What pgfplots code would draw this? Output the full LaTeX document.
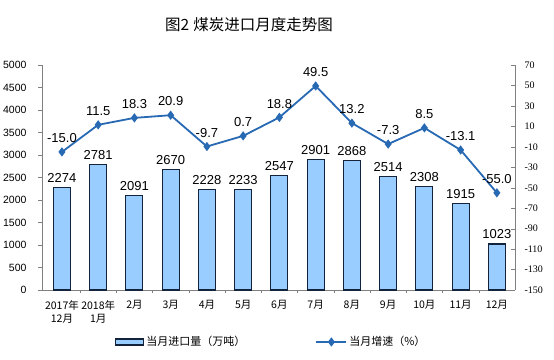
\documentclass[border=0pt]{standalone}
\usepackage{pgfplots}
\pgfplotsset{compat=1.18}
\usepackage{fontspec}
\setmainfont{Liberation Sans}
\newfontfamily\cjk{Noto Sans CJK SC}
\newfontfamily\tnr{Liberation Serif}
\definecolor{barblue}{RGB}{153,204,255}
\definecolor{bardark}{RGB}{20,35,60}
\definecolor{lineblue}{RGB}{40,105,180}
\definecolor{axgray}{RGB}{128,128,128}
\pgfplotsset{
  barleg/.style={legend image code/.code={\draw[fill=barblue, draw=bardark, line width=1.1pt] (0pt,-3pt) rectangle (28pt,3pt);}},
  lineleg/.style={legend image code/.code={\draw[##1, mark repeat=2, mark phase=2] plot coordinates {(0pt,0pt) (15pt,0pt) (30pt,0pt)};}},
}
\begin{document}
\begin{tikzpicture}[x=1pt,y=1pt]
\useasboundingbox (0,0) rectangle (554,359);
\node[font={\cjk\fontsize{15.5}{17}\selectfont}] at (249,334) {图2\hspace{4pt}煤炭进口月度走势图};
\begin{axis}[
  at={(42pt,69pt)}, anchor=south west, scale only axis,
  width=473pt, height=225pt,
  xmin=-0.55, xmax=12.5, ymin=0, ymax=5000,
  axis y line*=left, axis x line*=bottom,
  axis line style={draw=axgray, line width=0.6pt},
  ytick={0,500,...,5000},
  xtick={0,...,12},
  xticklabels={{2017年\\12月},{2018年\\1月},2月,3月,4月,5月,6月,7月,8月,9月,10月,11月,12月},
  xticklabel style={font={\cjk\fontsize{10.5}{13}\selectfont}, align=center, text depth=0pt, yshift=-3pt},
  minor xtick={0.5,1.5,...,11.5},
  major x tick style={draw=none},
  minor tick length=3pt,
  tick align=outside,
  x tick style={draw=axgray},
  y tick style={draw=axgray},
  major tick length=4pt,
  yticklabel style={font={\fontsize{10.5}{12}\selectfont}, xshift=-8pt},
  /pgf/number format/assume math mode=true,
  /pgf/number format/1000 sep={},
  clip=false,
]
\addplot[ybar, bar width=17pt, fill=barblue, draw=bardark, line width=1.1pt,
  nodes near coords,
  nodes near coords style={font={\fontsize{13}{14}\selectfont}, text=black, /pgf/number format/1000 sep={}, yshift=1pt}]
  coordinates {(0,2274) (1,2781) (2,2091) (3,2670) (4,2228) (5,2233) (6,2547) (7,2901) (8,2868) (9,2514) (10,2308) (11,1915) (12,1023)};
\end{axis}
\begin{axis}[
  at={(42pt,69pt)}, anchor=south west, scale only axis,
  width=473pt, height=225pt,
  xmin=-0.55, xmax=12.5, ymin=-150, ymax=70,
  axis y line*=right, axis x line=none,
  axis line style={draw=axgray, line width=0.6pt},
  ytick={-150,-130,...,70},
  tick align=inside,
  y tick style={draw=axgray},
  major tick length=4pt,
  yticklabel style={font={\tnr\fontsize{10}{12}\selectfont}, xshift=6pt},
  /pgf/number format/assume math mode=true,
  clip=false,
  legend columns=2,
  legend style={draw=none, fill=none, at={(0.485,-0.231)}, anchor=center,
    font={\cjk\fontsize{11}{13}\selectfont}, /tikz/every even column/.append style={column sep=68pt}},
]
\addlegendimage{barleg}
\addlegendentry{当月进口量（万吨）}
\addplot[color=lineblue, line width=1.8pt, mark=diamond*, mark size=3.2pt, mark options={fill=lineblue},
  nodes near coords,
  nodes near coords style={font={\fontsize{13}{14}\selectfont}, text=black, anchor=south, yshift=5pt,
    /pgf/number format/.cd, fixed, fixed zerofill, precision=1},
  lineleg]
  coordinates {(0,-15.0) (1,11.5) (2,18.3) (3,20.9) (4,-9.7) (5,0.7) (6,18.8) (7,49.5) (8,13.2) (9,-7.3) (10,8.5) (11,-13.1) (12,-55.0)};
\addlegendentry{当月增速（\%）}
\end{axis}
\end{tikzpicture}
\end{document}
